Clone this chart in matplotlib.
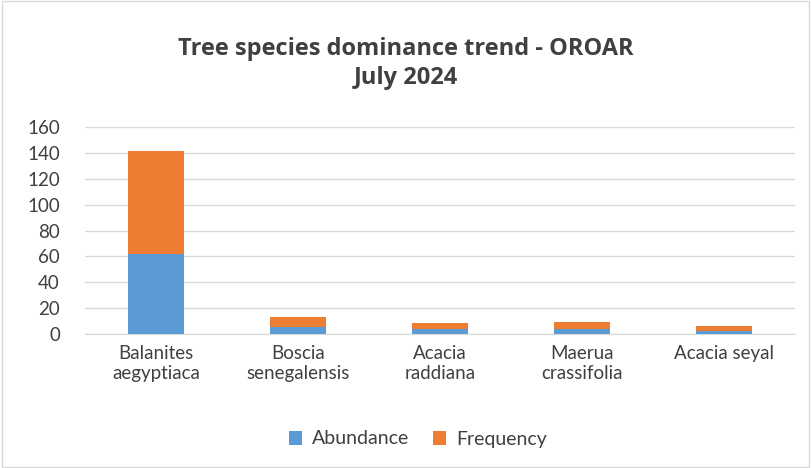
import matplotlib.pyplot as plt
import numpy as np

species = ["Balanites\naegyptiaca", "Boscia\nsenegalensis", "Acacia\nraddiana",
           "Maerua\ncrassifolia", "Acacia seyal"]
abundance = [62, 5.5, 3.6, 3.6, 2.6]
frequency = [79.5, 7.7, 5.1, 5.3, 3.6]

plt.rcParams['font.family'] = ['Lato', 'DejaVu Sans']

fig = plt.figure(figsize=(8.11, 4.68), dpi=100)
ax = fig.add_axes([85 / 811, 1 - 334 / 468, 710 / 811, 207 / 468])

x = np.arange(len(species))
ax.bar(x, abundance, width=0.4, color="#5B9BD5", label="Abundance", zorder=3)
ax.bar(x, frequency, width=0.4, bottom=abundance, color="#ED7D31", label="Frequency", zorder=3)

ax.set_xlim(-0.5, len(species) - 0.5)
ax.set_ylim(0, 160)
ax.set_yticks(range(0, 161, 20))
ax.set_xticks(x)
ax.set_xticklabels(species, fontsize=13.5, color="#404040")
ax.tick_params(axis="y", labelsize=13.5, labelcolor="#404040", length=0, pad=18)
ax.tick_params(axis="x", length=0, pad=8)
ax.grid(axis="y", color="#D9D9D9", linewidth=1, zorder=0)
for s in ["top", "right", "left"]:
    ax.spines[s].set_visible(False)
ax.spines["bottom"].set_color("#D9D9D9")

fig.suptitle("Tree species dominance trend - OROAR\nJuly 2024", y=0.922,
             fontsize=17, fontweight="bold", color="#404040", linespacing=1.3,
             family=["Open Sans", "DejaVu Sans"])

fig.legend(loc="center", bbox_to_anchor=(0.515, 1 - 439 / 468), ncol=2, frameon=False,
           fontsize=14, handlelength=0.7, handleheight=0.7, columnspacing=1.2,
           handletextpad=0.5, labelcolor="#404040")

fig.patches.append(plt.Rectangle((0.002, 0.002), 0.996, 0.996, transform=fig.transFigure,
                                 fill=False, edgecolor="#D9D9D9", linewidth=1))

fig.savefig("out.png", dpi=100)
